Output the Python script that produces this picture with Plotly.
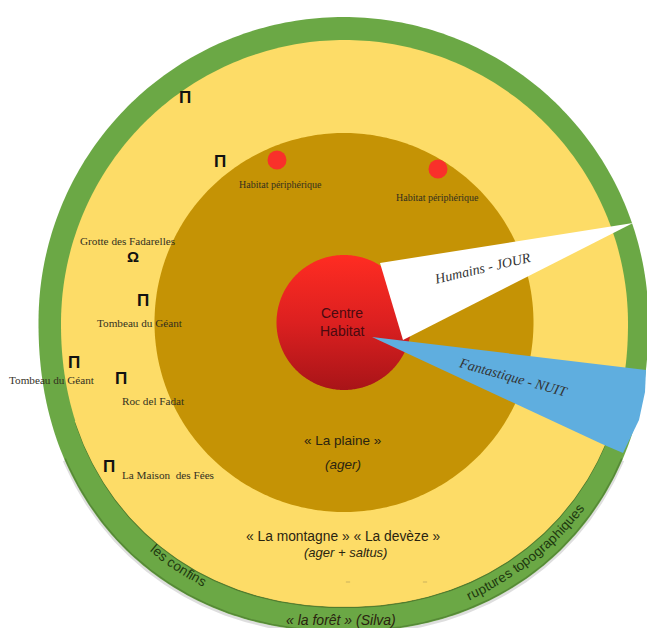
import numpy as np
import plotly.graph_objects as go

# --- diagram content ---
ring_names = ["la forêt", "la montagne", "la plaine"]
ring_cx = [343.5, 344.5, 344]
ring_cy = [322, 323.5, 322.5]
ring_r = [305, 283.5, 189.5]
ring_r_down = [310, 283.5, 189.5]     # lower half is drawn slightly fuller in the picture
ring_power = [2.15, 2.12, 2.0]
ring_colors = ["#6BA845", "#FDDC67", "#C59305"]

centre_xy = (344, 322.5)
centre_r = 67.5

day_x = [380, 633, 403]
day_y = [263, 223, 340]
night_x = [372, 646, 645, 639, 623, 602]
night_y = [337, 370, 392, 420, 453, 444]

hamlet_x = [277, 438]
hamlet_y = [160, 169]

pi_x = [185, 220, 143, 74, 121, 109]
pi_y = [97, 161, 300, 362, 378, 466]
omega_x = [133]
omega_y = [256]

serif_labels = ["Habitat périphérique", "Habitat périphérique", "Grotte des Fadarelles",
                "Tombeau du Géant", "Tombeau du Géant", "Roc del Fadat", "La Maison  des Fées"]
serif_x = [280, 437, 127, 140, 52, 153, 168]
serif_y = [184, 197, 241, 323, 380, 401, 475]
serif_size = [10, 10, 11.2, 11.2, 11.2, 11.2, 11.2]

sans_labels = ["Centre", "Habitat", "« La plaine »", "<i>(ager)</i>",
               "« La montagne » « La devèze »", "<i>(ager + saltus)</i>",
               "<i>« la forêt » (Silva)</i>"]
sans_x = [342, 342, 342, 343, 343, 345, 341]
sans_y = [313, 331, 440, 464, 536, 552, 619.5]
sans_size = [14, 14, 13.5, 13.5, 13.8, 13, 14]

wedge_labels = ["Humains - JOUR", "Fantastique - NUIT"]
wedge_x = [482, 513]
wedge_y = [268, 377]
wedge_rot = [-13, 15.5]

speck_x = [348, 425]
speck_y = [582, 582]

curved_labels = ["les confins", "ruptures topographiques"]
curved_angle = [124, 51.6]
curved_radius = [295, 301]
curved_size = [13.5, 13.5]


def ring(cx, cy, r, r_down, p, start=0.0, stop=2 * np.pi, n=361):
    t = np.linspace(start, stop, n)
    c, s = np.cos(t), np.sin(t)
    scale = np.where(s > 0, (np.abs(c) ** p + np.abs(s) ** p) ** (-1 / p), 1.0)
    return cx + r * scale * c, cy + np.where(s > 0, r_down, r) * scale * s


fig = go.Figure()

# soft shadow under the lower edge of the green ring
xs, ys = ring(ring_cx[0], ring_cy[0] + 1.5, ring_r[0], ring_r_down[0], ring_power[0], 0.45, np.pi - 0.45)
fig.add_trace(go.Scatter(x=xs, y=ys, mode="lines", line=dict(color="rgba(90,90,90,0.2)", width=3), name="ombre"))

for i, name in enumerate(ring_names):
    xs, ys = ring(ring_cx[i], ring_cy[i], ring_r[i], ring_r_down[i], ring_power[i])
    fig.add_trace(go.Scatter(x=xs, y=ys, mode="none", fill="toself", fillcolor=ring_colors[i], name=name))
    if i == 0:
        # dark lip of the green ring
        xd, yd = ring(ring_cx[i], ring_cy[i], ring_r[i] - 1, ring_r_down[i] - 1, ring_power[i], 0.45, np.pi - 0.45)
        fig.add_trace(go.Scatter(x=xd, y=yd, mode="lines", line=dict(color="rgba(50,80,30,0.35)", width=1.5), name="bord"))
    if i == 1:
        # shadow where the yellow disc meets the green ring
        xd, yd = ring(ring_cx[i], ring_cy[i] + 0.5, ring_r[i], ring_r_down[i], ring_power[i], 0.35, np.pi - 0.35)
        fig.add_trace(go.Scatter(x=xd, y=yd, mode="lines", line=dict(color="rgba(45,70,20,0.45)", width=1.5), name="ombre jaune"))
        # hide the inner half of that line under the yellow edge
        xd, yd = ring(ring_cx[i], ring_cy[i] - 1, ring_r[i], ring_r_down[i], ring_power[i], 0.35, np.pi - 0.35)
        fig.add_trace(go.Scatter(x=xd, y=yd, mode="lines", line=dict(color=ring_colors[i], width=1.5), name="bord jaune"))

fig.add_trace(go.Scatter(x=speck_x, y=speck_y, mode="markers", name="traces",
                         marker=dict(symbol="line-ew", size=3, line=dict(width=0.7, color="#B5A25A"))))

xs, ys = ring(centre_xy[0], centre_xy[1], centre_r, centre_r, 2.0)
fig.add_trace(go.Scatter(
    x=xs, y=ys, mode="none", fill="toself", name="centre",
    fillgradient=dict(type="vertical", colorscale=[[0, "#A81418"], [0.5, "#DC2020"], [1, "#FF2C22"]]),
))
fig.add_trace(go.Scatter(x=day_x + day_x[:1], y=day_y + day_y[:1], mode="none", fill="toself",
                         fillcolor="#FFFFFF", name="jour"))
fig.add_trace(go.Scatter(x=night_x + night_x[:1], y=night_y + night_y[:1], mode="none", fill="toself",
                         fillcolor="#5FAEDF", name="nuit"))
fig.add_trace(go.Scatter(x=hamlet_x, y=hamlet_y, mode="markers",
                         marker=dict(size=19, color="#F9302A"), name="habitat"))

annotations = []


def put(text, x, y, size, family, color="#222", rot=0):
    annotations.append(dict(text=text, x=x, y=y, xref="x", yref="y", showarrow=False,
                            textangle=rot, font=dict(size=size, family=family, color=color),
                            xanchor="center", yanchor="middle"))


for x, y in zip(pi_x, pi_y):
    put("<b>Π</b>", x, y, 17, "Liberation Sans", "#111")
for x, y in zip(omega_x, omega_y):
    put("<b>Ω</b>", x, y, 15, "Liberation Sans", "#111")
for t, x, y, s in zip(serif_labels, serif_x, serif_y, serif_size):
    put(t, x, y, s, "Liberation Serif", "#33301f")
for t, x, y, s in zip(sans_labels, sans_x, sans_y, sans_size):
    col = "#4A0A10" if t in ("Centre", "Habitat") else "#2a2410"
    put(t, x, y, s, "Liberation Sans", col)
for t, x, y, r in zip(wedge_labels, wedge_x, wedge_y, wedge_rot):
    put(f"<i>{t}</i>", x, y, 14, "Liberation Serif", "#333333", r)

# curved captions on the green ring
WIDTHS = {"i": .222, "l": .222, "f": .278, "t": .278, "r": .333, " ": .278, "s": .5, "c": .5, "q": .556}


def curved_bottom(text, mid_deg, radius, size):
    adv = [WIDTHS.get(ch, .556) * size for ch in text]
    pos = -sum(adv) / 2
    for ch, w in zip(text, adv):
        a = np.radians(mid_deg) - (pos + w / 2) / radius
        x = 343 + radius * np.cos(a)
        y = 322 + radius * np.sin(a)
        if ch != " ":
            put(ch, x, y, size, "Liberation Sans", "#20380F", np.degrees(a) - 90)
        pos += w


for t, a, r, s in zip(curved_labels, curved_angle, curved_radius, curved_size):
    curved_bottom(t, a, r, s)

fig.update_layout(
    width=647, height=628, margin=dict(l=0, r=0, t=0, b=0),
    paper_bgcolor="#FFFFFF", plot_bgcolor="#FFFFFF", showlegend=False,
    xaxis=dict(range=[0, 647], visible=False, fixedrange=True),
    yaxis=dict(range=[628, 0], visible=False, fixedrange=True),
    annotations=annotations,
)
fig.write_html("out.html", config=dict(displayModeBar=False),
               post_script="document.body.style.margin='0';")
